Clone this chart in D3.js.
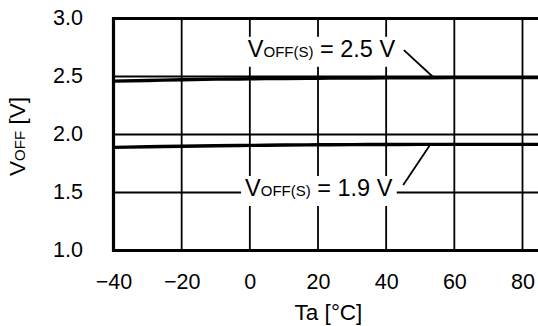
<!DOCTYPE html>
<html>
<head>
<meta charset="utf-8">
<script src="https://cdn.jsdelivr.net/npm/d3@7"></script>
<style>
  html, body { margin: 0; padding: 0; background: #fff; }
  svg { display: block; font-family: "Liberation Sans", Arial, sans-serif; }
</style>
</head>
<body>
<svg id="chart" width="538" height="326"></svg>
<script>
// ---- data ----
const temps = [-40, -30, -20, -10, 0, 10, 20, 30, 40, 50, 60, 70, 80, 85];
const voff25 = [2.460, 2.466, 2.472, 2.477, 2.480, 2.483, 2.485, 2.487, 2.488, 2.489, 2.490, 2.490, 2.490, 2.490];
const voff19 = [1.889, 1.894, 1.899, 1.903, 1.906, 1.909, 1.911, 1.913, 1.914, 1.915, 1.915, 1.915, 1.915, 1.915];
const xTicks = [-40, -20, 0, 20, 40, 60, 80];
const yTicks = [1.0, 1.5, 2.0, 2.5, 3.0];
const seriesLabels = ["2.5 V", "1.9 V"];
// label anchor (data coords), leader start (data coords), leader target x on curve
const labelAnchors = [{x: -0.6, y: 2.670}, {x: -1.4, y: 1.470}];
const leaderStarts = [{x: 45.2, y: 2.728}, {x: 45.0, y: 1.565}];
const leaderTargetsX = [54, 53];

// ---- layout ----
const svg = d3.select("#chart");
const x = d3.scaleLinear().domain([-40, 80]).range([113.5, 522.5]);
const y = d3.scaleLinear().domain([1, 3]).range([250.5, 18.5]);
const xMax = x.invert(545);

const g = svg.append("g");

// gridlines
g.selectAll("line.vg").data(xTicks.slice(1)).join("line")
  .attr("x1", d => x(d)).attr("x2", d => x(d))
  .attr("y1", y(3)).attr("y2", y(1))
  .attr("stroke", "#000").attr("stroke-width", 1.8);
g.selectAll("line.hg").data(yTicks.slice(1, -1)).join("line")
  .attr("x1", x(-40)).attr("x2", x(xMax))
  .attr("y1", d => y(d)).attr("y2", d => y(d))
  .attr("stroke", "#000").attr("stroke-width", 1.8);

// curves
const series = [voff25, voff19];
const line = d3.line().x(d => x(d[0])).y(d => y(d[1])).curve(d3.curveMonotoneX);
series.forEach(vals => {
  g.append("path")
    .datum(temps.map((t, i) => [t, vals[i]]))
    .attr("d", line)
    .attr("fill", "none").attr("stroke", "#000").attr("stroke-width", 3.4);
});

// leader lines
const interp = (vals, t) => {
  const i = d3.bisectRight(temps, t) - 1;
  const f = (t - temps[i]) / (temps[i + 1] - temps[i]);
  return vals[i] + f * (vals[i + 1] - vals[i]);
};
series.forEach((vals, k) => {
  g.append("line")
    .attr("x1", x(leaderStarts[k].x)).attr("y1", y(leaderStarts[k].y))
    .attr("x2", x(leaderTargetsX[k])).attr("y2", y(interp(vals, leaderTargetsX[k])))
    .attr("stroke", "#000").attr("stroke-width", 1.8);
});

// labels with white background
series.forEach((vals, k) => {
  const lg = g.append("g");
  const bg = lg.append("rect").attr("fill", "#fff");
  const t = lg.append("text")
    .attr("x", x(labelAnchors[k].x)).attr("y", y(labelAnchors[k].y))
    .attr("font-size", 23.5).attr("fill", "#000");
  t.append("tspan").text("V");
  t.append("tspan").attr("font-size", 15).text("OFF(S)");
  t.append("tspan").text(" = " + seriesLabels[k]);
  const bb = t.node().getBBox();
  bg.attr("x", bb.x - 4).attr("y", bb.y + 1).attr("width", bb.width + 8).attr("height", bb.height + 4);
});

// frame
const fx1 = x(xMax);
g.append("path")
  .attr("d", `M${fx1},${y(3)}H${x(-40)}V${y(1)}H${fx1}`)
  .attr("fill", "none").attr("stroke", "#000").attr("stroke-width", 3.2);

// x axis labels
const xAxis = d3.axisBottom(x).tickValues(xTicks).tickSize(0)
  .tickFormat(d => d < 0 ? "\u2212" + Math.abs(d) : String(d));
const xa = svg.append("g").attr("transform", `translate(0,${y(1) + 20})`).call(xAxis);
xa.select(".domain").remove();
xa.selectAll("text").attr("font-size", 21.5).attr("font-family", "Liberation Sans, Arial, sans-serif").attr("fill", "#000");

// y axis labels
const yAxis = d3.axisLeft(y).tickValues(yTicks).tickSize(0).tickFormat(d3.format(".1f"));
const ya = svg.append("g").attr("transform", `translate(${83 + 3},0)`).call(yAxis);
ya.select(".domain").remove();
ya.selectAll("text").attr("font-size", 21.5).attr("font-family", "Liberation Sans, Arial, sans-serif").attr("fill", "#000").attr("dy", "0.3em");

// axis titles
svg.append("text").attr("x", 328.5).attr("y", 320).attr("text-anchor", "middle")
  .attr("font-size", 22.5).attr("fill", "#000").text("Ta [\u00B0C]");

const yt = svg.append("text")
  .attr("transform", `translate(25,${136.5}) rotate(-90)`)
  .attr("text-anchor", "middle").attr("font-size", 22.5).attr("fill", "#000");
yt.append("tspan").text("V");
yt.append("tspan").attr("font-size", 15).text("OFF");
yt.append("tspan").text(" [V]");
</script>
</body>
</html>
